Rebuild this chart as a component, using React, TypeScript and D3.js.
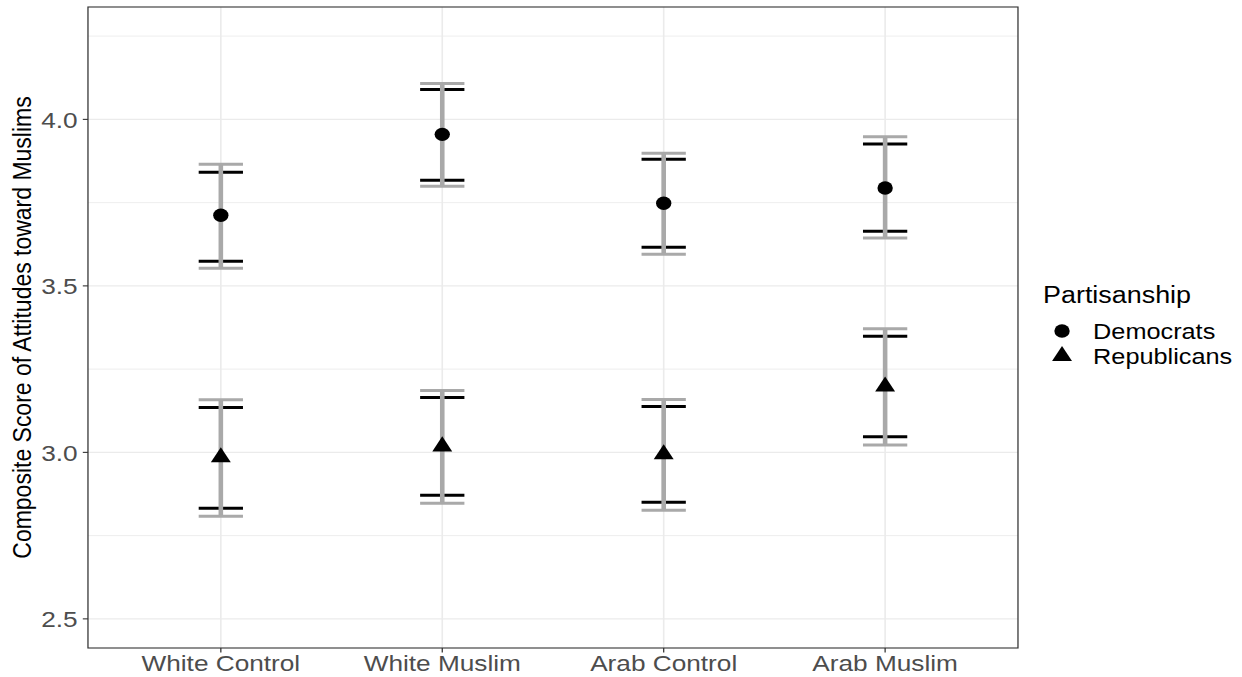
import * as d3 from "d3";

// chart values
const categories = ["White Control", "White Muslim", "Arab Control", "Arab Muslim"];
const parties = ["Democrats", "Republicans"];

const demMean = [3.712, 3.955, 3.748, 3.794];
const demLo90 = [3.574, 3.817, 3.616, 3.664];
const demHi90 = [3.841, 4.09, 3.88, 3.926];
const demLo95 = [3.553, 3.799, 3.595, 3.644];
const demHi95 = [3.865, 4.108, 3.898, 3.948];

const repMean = [2.985, 3.018, 2.994, 3.198];
const repLo90 = [2.832, 2.871, 2.85, 3.047];
const repHi90 = [3.135, 3.165, 3.138, 3.349];
const repLo95 = [2.808, 2.847, 2.826, 3.022];
const repHi95 = [3.158, 3.186, 3.159, 3.371];

const yTicks = [2.5, 3.0, 3.5, 4.0];
const yMinor = [2.75, 3.25, 3.75, 4.25];

// the reference is horizontally stretched, so draw in a narrower box and stretch it
const W = 1242;
const H = 677;
const VW = 1080;
const panel = { left: 76.5, right: 885.2, top: 7, bottom: 648 };

const FONT = "'Liberation Sans', Arial, sans-serif";
const GREY = "#a9a9a9";

export default function App() {
  const x = d3
    .scalePoint<string>()
    .domain(categories)
    .range([panel.left, panel.right])
    .padding(0.6);
  const y = d3
    .scaleLinear()
    .domain([2.4125, 4.3375])
    .range([panel.bottom, panel.top]);

  const capHalf = x.step() * 0.1;

  const series = [
    { name: parties[0], mean: demMean, lo90: demLo90, hi90: demHi90, lo95: demLo95, hi95: demHi95, shape: d3.symbolCircle, size: 140 },
    { name: parties[1], mean: repMean, lo90: repLo90, hi90: repHi90, lo95: repLo95, hi95: repHi95, shape: d3.symbolTriangle, size: 130 },
  ];

  const errorBar = (cx: number, lo: number, hi: number, color: string, key: string, lineW: number) => (
    <g key={key}>
      <line x1={cx} x2={cx} y1={y(lo)} y2={y(hi)} stroke={color} strokeWidth={lineW} />
      <line x1={cx - capHalf} x2={cx + capHalf} y1={y(lo)} y2={y(lo)} stroke={color} strokeWidth={3} />
      <line x1={cx - capHalf} x2={cx + capHalf} y1={y(hi)} y2={y(hi)} stroke={color} strokeWidth={3} />
    </g>
  );

  const midY = (panel.top + panel.bottom) / 2;

  return (
    <svg
      width={W}
      height={H}
      viewBox={`0 0 ${VW} ${H}`}
      preserveAspectRatio="none"
      style={{ position: "absolute", left: 0, top: 0, background: "#fff" }}
    >
      <rect x={0} y={0} width={VW} height={H} fill="#fff" />

      {/* grid */}
      {yMinor.map((v) => (
        <line key={"mn" + v} x1={panel.left} x2={panel.right} y1={y(v)} y2={y(v)} stroke="#ebebeb" strokeWidth={0.8} />
      ))}
      {yTicks.map((v) => (
        <line key={"mj" + v} x1={panel.left} x2={panel.right} y1={y(v)} y2={y(v)} stroke="#ebebeb" strokeWidth={1.4} />
      ))}
      {categories.map((c) => (
        <line key={"vx" + c} x1={x(c)!} x2={x(c)!} y1={panel.top} y2={panel.bottom} stroke="#ebebeb" strokeWidth={1.4} />
      ))}

      {/* error bars: 90% in black, 95% in grey on top */}
      {series.map((s) =>
        categories.map((c, i) => errorBar(x(c)!, s.lo90[i], s.hi90[i], "#000", `b${s.name}${i}`, 3))
      )}
      {series.map((s) =>
        categories.map((c, i) => errorBar(x(c)!, s.lo95[i], s.hi95[i], GREY, `g${s.name}${i}`, 4))
      )}

      {/* points */}
      {series.map((s) =>
        categories.map((c, i) => (
          <path
            key={`p${s.name}${i}`}
            d={d3.symbol().type(s.shape).size(s.size)()!}
            transform={`translate(${x(c)},${y(s.mean[i])})`}
            fill="#000"
          />
        ))
      )}

      {/* panel border */}
      <rect
        x={panel.left}
        y={panel.top}
        width={panel.right - panel.left}
        height={panel.bottom - panel.top}
        fill="none"
        stroke="#333"
        strokeWidth={1.1}
      />

      {/* y axis */}
      {yTicks.map((v) => (
        <g key={"yt" + v}>
          <line x1={panel.left - 4.5} x2={panel.left} y1={y(v)} y2={y(v)} stroke="#333" strokeWidth={1.1} />
          <text
            x={panel.left - 9}
            y={y(v)}
            dy="0.36em"
            textAnchor="end"
            fontFamily={FONT}
            fontSize={22.8}
            fill="#4d4d4d"
          >
            {v.toFixed(1)}
          </text>
        </g>
      ))}
      <text
        transform={`translate(19,${midY}) rotate(-90)`}
        dy="0.36em"
        textAnchor="middle"
        fontFamily={FONT}
        fontSize={23}
        fill="#000"
      >
        Composite Score of Attitudes toward Muslims
      </text>

      {/* x axis */}
      {categories.map((c) => (
        <g key={"xt" + c}>
          <line x1={x(c)!} x2={x(c)!} y1={panel.bottom} y2={panel.bottom + 4.5} stroke="#333" strokeWidth={1.1} />
          <text x={x(c)!} y={671} textAnchor="middle" fontFamily={FONT} fontSize={22.8} fill="#4d4d4d">
            {c}
          </text>
        </g>
      ))}

      {/* legend */}
      <text x={907} y={303} fontFamily={FONT} fontSize={23.4} fill="#000">
        Partisanship
      </text>
      {series.map((s, i) => (
        <g key={"lg" + s.name} transform={`translate(923.5,${331 + i * 25})`}>
          <path d={d3.symbol().type(s.shape).size(s.size)()!} fill="#000" />
          <text x={27} y={0} dy="0.36em" fontFamily={FONT} fontSize={22} fill="#000">
            {s.name}
          </text>
        </g>
      ))}
    </svg>
  );
}
